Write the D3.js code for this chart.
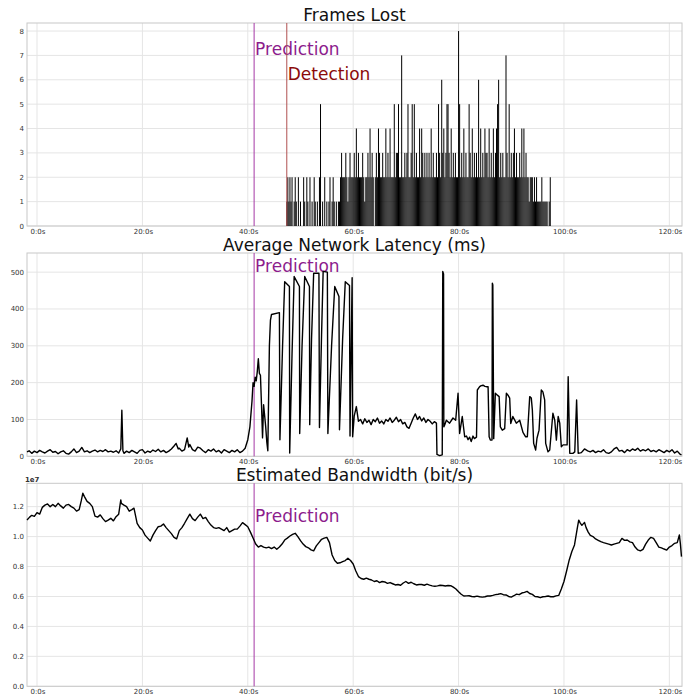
<!DOCTYPE html>
<html>
<head>
<meta charset="utf-8">
<script src="https://cdn.jsdelivr.net/npm/d3@7"></script>
<style>
  body { margin: 0; background: #fff; }
  svg { font-family: "DejaVu Sans", sans-serif; }
</style>
</head>
<body>
<div id="chart"></div>
<script>
// x axis (seconds)
const xTicks = [0, 20, 40, 60, 80, 100, 120];
const predictionTime = 41.2;
const detectionTime = 47.4;

// frames lost: one digit per 0.2s bin starting at 47.4s, grouped by second
const framesStart = 47.4;
const framesStep = 0.2;
const framesLost = [
  "12121", "20121", "02010", "02102", "10201",
  "02101", "02501", "02010", "12012", "10101",
  "12322", "23212", "32223", "24232", "22321",
  "22324", "23202", "32432", "23224", "23242",
  "22523", "35227", "22323", "52235", "25232",
  "24243", "23232", "32423", "22325", "32634",
  "23553", "24232", "32285", "23242", "32253",
  "24232", "32624", "23243", "32423", "24234",
  "56232", "32273", "25232", "34232", "23242",
  "42322", "12221", "21211", "11211", "11101",
  "2"
];
const framesTicks = [0, 1, 2, 3, 4, 5, 6, 7, 8];

// average network latency (ms): [time s, value]
const latency = [
  [-1.9,12],[-1.5,15],[-1,8],[-0.5,14],[0,10],[0.5,16],[1,12],[1.5,9],[2,14],[2.5,18],
  [3,11],[3.5,13],[4,7],[4.5,12],[5,15],[5.5,8],[6,6],[6.5,12],[7,20],[7.5,10],
  [8,14],[8.5,24],[9,12],[9.5,15],[10,10],[10.5,14],[11,17],[11.5,12],[12,16],[12.5,13],
  [13,18],[13.5,12],[14,14],[14.5,11],[15,15],[15.5,9],[15.9,20],[16.1,125],[16.3,15],[16.5,8],
  [17,14],[17.5,10],[18,16],[18.5,12],[19,8],[19.5,16],[20,18],[20.5,9],[21,14],[21.5,11],
  [22,17],[22.5,13],[23,19],[23.5,12],[24,16],[24.5,10],[25,14],[25.5,20],[26,28],[26.4,35],
  [26.8,20],[27,22],[27.5,14],[28,18],[28.5,50],[28.8,25],[29,32],[29.5,18],[30,14],[30.5,25],
  [31,22],[31.5,15],[32,10],[32.5,18],[33,14],[33.5,20],[34,12],[34.5,16],[35,9],[35.5,18],
  [36,14],[36.5,10],[37,16],[37.5,12],[38,18],[38.5,10],[39,14],[39.5,22],
  [40,45],[40.4,80],[40.8,150],[41,200],[41.2,190],[41.4,215],[41.6,205],[41.8,230],[42,265],
  [42.2,225],[42.4,220],[42.6,140],[42.8,50],[43,140],[43.2,110],[43.4,80],[43.6,40],[43.8,15],
  [44.1,300],[44.3,370],[44.5,385],[46,390],[46.1,45],
  [46.6,300],[47,474],[47.9,461],[47.95,9],
  [48.4,280],[48.8,488],[49.8,461],[49.85,62],
  [50.3,300],[50.8,488],[51.7,461],[51.75,86],
  [52.1,320],[52.5,497],[53.5,497],[53.6,78],
  [54,330],[54.3,502],[55.1,500],[55.2,62],
  [55.9,300],[56.5,461],[57.3,434],[57.4,72],
  [58,320],[58.5,474],[59.3,464],[59.4,55],[59.8,485],[59.9,53],
  [60.2,110],[60.6,135],[61,95],[61.4,100],[61.8,88],[62.2,102],[62.6,92],[63,98],[63.4,86],[63.8,100],
  [64.2,94],[64.6,104],[65,90],[65.4,96],[65.8,88],[66.2,100],[66.6,95],[67,104],[67.4,92],[67.8,98],
  [68.2,106],[68.6,94],[69,100],[69.4,88],[69.8,92],[70.2,80],[70.6,76],[71,90],[71.4,104],[71.8,115],
  [72.2,100],[72.6,108],[73,96],[73.4,104],[73.8,92],[74.2,100],[74.6,95],[75,88],[75.4,94],[75.8,90],
  [75.9,5],[76.4,2],[76.9,4],[77,502],[77.15,495],[77.2,80],
  [77.36,85],[77.68,98],[78.3,90],[78.94,104],[79.45,98],[79.9,171],[80.2,62],[80.7,108],[81.16,53],
  [81.5,55],[81.8,45],[82.1,52],[82.4,40],[82.74,55],[83,48],[83.4,52],
  [83.56,180],[84,189],[84.3,192],[84.64,193],[85,190],[85.27,189],[85.6,189],[85.8,53],[86.03,44],
  [86.35,44],[86.41,470],[86.5,465],[86.67,48],[86.98,171],[87.36,166],[87.7,162],[87.93,80],[88.3,71],
  [88.75,75],[89.07,171],[89.38,166],[89.7,158],[89.9,89],[90.3,108],[90.96,90],[91.6,98],[92.22,65],
  [92.73,53],[93.05,53],[93.5,162],[93.8,158],[94,126],[94.25,35],[94.63,17],[94.88,49],[95.27,71],
  [95.7,180],[96,175],[96.34,153],[96.53,35],[96.97,12],[97.3,17],[97.9,117],[98.25,98],[98.56,44],
  [98.9,108],[99.2,90],[99.5,26],[99.84,31],[100.35,31],[100.6,31],[100.8,216],[101.1,8],[101.7,8],
  [102.05,12],[102.4,153],[102.7,8],[103.3,10],[103.9,20],[104.5,15],[105,12],[105.5,16],[106,10],
  [106.5,14],[107,12],[107.5,18],[108,10],[108.5,8],[109,12],[109.5,20],[110,24],[110.5,14],[111,16],
  [111.5,10],[112,18],[112.5,14],[113,20],[113.5,16],[114,22],[114.5,14],[115,18],[115.5,15],[116,20],
  [116.5,13],[117,16],[117.5,12],[118,18],[118.5,14],[119,10],[119.5,16],[120,12],[120.5,18],[121,9],
  [121.5,14],[122,6],[122.3,4]
];
const latencyTicks = [0, 100, 200, 300, 400, 500];

// estimated bandwidth (x 1e7 bit/s): [time s, value]
const bandwidth = [
  [-1.9,1.111],[-1.4,1.13],[-1,1.142],[-0.5,1.135],[0,1.16],[0.5,1.15],[1,1.195],[1.5,1.21],[2,1.218],
  [2.5,1.2],[3,1.215],[3.5,1.2],[4,1.222],[4.5,1.205],[5,1.19],[5.5,1.21],[6,1.215],[6.5,1.2],[7,1.19],
  [7.5,1.17],[8,1.18],[8.4,1.24],[8.7,1.29],[9,1.267],[9.5,1.235],[10,1.222],[10.5,1.2],[11,1.137],[11.5,1.13],
  [12,1.145],[12.5,1.12],[13,1.1],[13.5,1.11],[14,1.122],[14.5,1.105],[15,1.133],[15.5,1.15],[15.9,1.245],
  [16,1.222],[16.5,1.21],[17,1.2],[17.5,1.17],[18,1.18],[18.4,1.19],[19,1.089],[19.5,1.06],[20,1.044],
  [20.5,1.01],[21,0.99],[21.5,0.97],[22,1.01],[22.5,1.04],[23,1.066],[23.5,1.07],[24,1.084],[24.5,1.06],
  [25,1.04],[25.5,1.02],[26,0.995],[26.5,0.985],[27,1.04],[27.5,1.06],[28,1.089],[28.5,1.12],[29,1.15],
  [29.5,1.12],[30,1.107],[30.5,1.13],[31,1.15],[31.5,1.12],[32,1.128],[32.5,1.1],[33,1.077],[33.5,1.06],
  [34,1.055],[34.5,1.06],[35,1.05],[35.5,1.04],[36,1.06],[36.5,1.03],[37,1.04],[37.5,1.05],[38,1.05],
  [38.5,1.07],[39,1.093],[39.5,1.08],[40,1.066],[40.5,1.03],[41,0.99],[41.5,0.95],[42,0.93],[42.5,0.94],
  [43,0.93],[43.5,0.925],[44,0.93],[44.5,0.92],[45,0.93],[45.5,0.915],[46,0.93],[46.5,0.95],[47,0.977],
  [47.5,0.99],[48,1.004],[48.5,1.015],[49,1.022],[49.5,1.0],[50,0.973],[50.5,0.95],[51,0.933],[51.5,0.925],
  [52,0.911],[52.5,0.905],[53,0.938],[53.5,0.96],[54,0.982],[54.5,0.99],[55,0.995],[55.5,0.96],[56,0.877],
  [56.5,0.84],[57,0.822],[57.5,0.825],[58,0.833],[58.5,0.84],[59,0.855],[59.5,0.84],[60,0.817],[60.5,0.77],
  [61,0.733],[61.5,0.72],[62,0.715],[62.5,0.722],[63,0.715],[63.5,0.71],[64,0.7],[64.5,0.705],[65,0.693],
  [65.5,0.7],[66,0.697],[66.5,0.688],[67,0.693],[67.5,0.685],[68,0.677],[68.5,0.68],[69,0.675],[69.5,0.69],
  [70,0.7],[70.5,0.688],[71,0.695],[71.5,0.685],[72,0.677],[72.5,0.68],[73,0.68],[73.5,0.675],[74,0.682],
  [74.5,0.676],[75,0.671],[75.5,0.668],[76,0.671],[76.5,0.675],[77,0.673],[77.5,0.67],[78,0.673],
  [78.5,0.672],[79,0.662],[79.5,0.65],[80,0.632],[80.5,0.615],[81,0.603],[81.5,0.604],[82,0.605],
  [82.5,0.6],[83,0.598],[83.5,0.602],[84,0.598],[84.5,0.596],[85,0.598],[85.5,0.603],[86,0.603],
  [86.5,0.607],[87,0.612],[87.5,0.615],[88,0.619],[88.5,0.612],[89,0.61],[89.5,0.6],[90,0.596],
  [90.5,0.605],[91,0.616],[91.5,0.612],[92,0.623],[92.5,0.627],[93,0.634],[93.5,0.62],[94,0.614],
  [94.5,0.6],[95,0.598],[95.5,0.592],[96,0.598],[96.5,0.6],[97,0.603],[97.5,0.598],[98,0.598],
  [98.5,0.604],[99,0.607],[99.5,0.65],[100,0.7],[100.5,0.77],[101,0.844],[101.5,0.9],[102,0.944],
  [102.5,1.05],[102.8,1.11],[103.1,1.09],[103.4,1.075],[103.9,1.095],[104.2,1.06],[104.6,1.03],[105,1.008],
  [105.5,1.0],[106,0.984],[106.5,0.975],[107,0.966],[107.5,0.96],[108,0.955],[108.5,0.95],[109,0.944],
  [109.5,0.95],[110,0.955],[110.5,0.96],[111,0.988],[111.5,0.975],[112,0.977],[112.5,0.965],[113,0.96],
  [113.5,0.93],[114,0.911],[114.5,0.905],[115,0.915],[115.5,0.95],[116,0.977],[116.5,0.995],[117,0.988],
  [117.5,0.96],[118,0.93],[118.5,0.925],[119,0.917],[119.5,0.91],[120,0.93],[120.5,0.94],[121,0.955],
  [121.5,0.96],[121.9,1.011],[122.1,0.95],[122.3,0.866]
];
const bandwidthTicks = [0, 0.2, 0.4, 0.6, 0.8, 1.0, 1.2];

const width = 700, height = 700;
const left = 27, right = 682;

const svg = d3.select("#chart").append("svg")
  .attr("width", width)
  .attr("height", height);

const x = d3.scaleLinear().domain([-1.9, 122.4]).range([left, right]);

// draw one panel frame: grid, tick labels, title
function panel(top, bottom, yDomain, yTicks, yFormat, title, titleY) {
  const y = d3.scaleLinear().domain(yDomain).range([bottom, top]);
  const g = svg.append("g");

  g.append("g").selectAll("line").data(xTicks).join("line")
    .attr("x1", d => x(d)).attr("x2", d => x(d))
    .attr("y1", top).attr("y2", bottom)
    .attr("stroke", "#e5e5e5").attr("stroke-width", 1);
  g.append("g").selectAll("line").data(yTicks).join("line")
    .attr("x1", left).attr("x2", right)
    .attr("y1", d => y(d)).attr("y2", d => y(d))
    .attr("stroke", "#e5e5e5").attr("stroke-width", 1);

  g.append("rect")
    .attr("x", left).attr("y", top)
    .attr("width", right - left).attr("height", bottom - top)
    .attr("fill", "none").attr("stroke", "#c8c8c8").attr("stroke-width", 1);

  g.append("g").selectAll("text").data(xTicks).join("text")
    .attr("x", d => x(d) + 1)
    .attr("y", bottom + 8)
    .attr("text-anchor", "middle")
    .attr("font-size", 7)
    .attr("fill", "#333")
    .text(d => d + ":0s");

  g.append("g").selectAll("text").data(yTicks).join("text")
    .attr("x", left - 3)
    .attr("y", d => y(d) + 2.5)
    .attr("text-anchor", "end")
    .attr("font-size", 7)
    .attr("fill", "#333")
    .text(yFormat);

  svg.append("text")
    .attr("x", (left + right) / 2)
    .attr("y", titleY)
    .attr("text-anchor", "middle")
    .attr("font-size", 17)
    .attr("fill", "#111")
    .text(title);

  return { y, g, top, bottom };
}

function marker(p, t, color, label, textColor, labelY) {
  p.g.append("line")
    .attr("x1", x(t)).attr("x2", x(t))
    .attr("y1", p.top).attr("y2", p.bottom)
    .attr("stroke", color).attr("stroke-width", 1);
  p.g.append("text")
    .attr("x", x(t) + 1)
    .attr("y", labelY)
    .attr("font-size", 17)
    .attr("fill", textColor)
    .text(label);
}

// Frames Lost
const p1 = panel(23, 226, [0, 8.33], framesTicks, d => d, "Frames Lost", 20.5);
const frames = framesLost.join("").split("").map((c, i) => ({ t: framesStart + i * framesStep, v: +c }));
p1.g.append("g").selectAll("rect").data(frames.filter(d => d.v > 0)).join("rect")
  .attr("x", d => x(d.t) - 0.5)
  .attr("width", 1)
  .attr("y", d => p1.y(d.v))
  .attr("height", d => p1.y(0) - p1.y(d.v))
  .attr("fill", "#000");
marker(p1, predictionTime, "#a638a6", "Prediction", "#8c1c8c", 55);
marker(p1, detectionTime, "#b05050", "Detection", "#8b0a0a", 79.5);

// Average Network Latency
const p2 = panel(253, 456.3, [0, 552], latencyTicks, d => d, "Average Network Latency (ms)", 250.7);
marker(p2, predictionTime, "#a638a6", "Prediction", "#8c1c8c", 271.7);
p2.g.append("path")
  .datum(latency)
  .attr("fill", "none")
  .attr("stroke", "#000")
  .attr("stroke-width", 1.4)
  .attr("stroke-linejoin", "round")
  .attr("d", d3.line().x(d => x(d[0])).y(d => p2.y(d[1])));

// Estimated Bandwidth
const p3 = panel(483.3, 686.3, [0, 1.356], bandwidthTicks, d => d3.format(".1f")(d), "Estimated Bandwidth (bit/s)", 480.7);
marker(p3, predictionTime, "#a638a6", "Prediction", "#8c1c8c", 521.7);
p3.g.append("path")
  .datum(bandwidth)
  .attr("fill", "none")
  .attr("stroke", "#000")
  .attr("stroke-width", 1.4)
  .attr("stroke-linejoin", "round")
  .attr("d", d3.line().x(d => x(d[0])).y(d => p3.y(d[1])));
svg.append("text")
  .attr("x", left - 2)
  .attr("y", 481.5)
  .attr("font-size", 7)
  .attr("font-weight", "bold")
  .attr("fill", "#333")
  .text("1e7");
</script>
</body>
</html>
